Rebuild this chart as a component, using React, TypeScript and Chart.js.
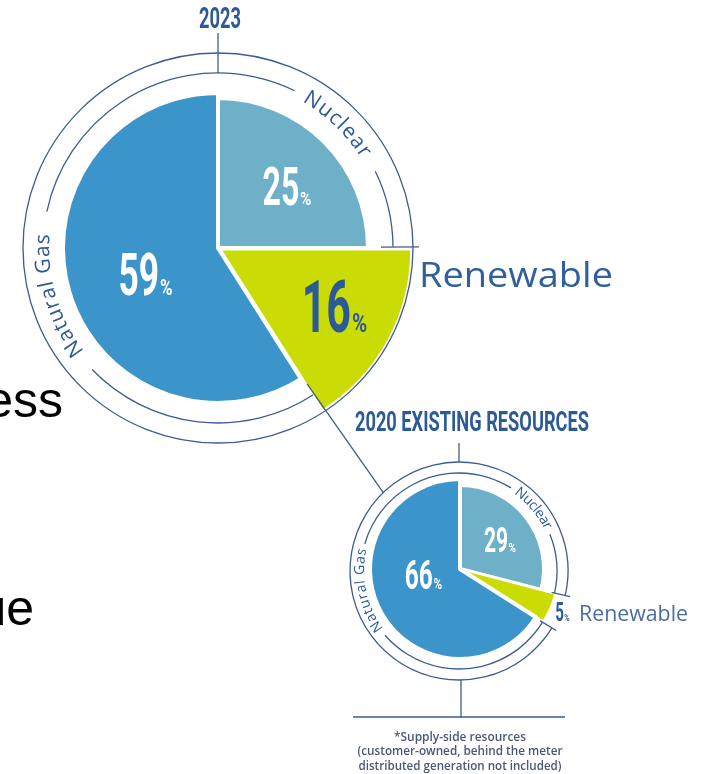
import React, { useEffect, useRef } from 'react';
import { Chart, registerables } from 'chart.js';

Chart.register(...registerables);

// ---------------- data ----------------
const sliceNames = ['Nuclear', 'Renewable', 'Natural Gas'];
const share2023 = [25, 16, 59];
const share2020 = [29, 5, 66];
const title2023 = '2023';
const title2020 = '2020 EXISTING RESOURCES';
const footnoteLines = [
  '*Supply-side resources',
  '(customer-owned, behind the meter',
  'distributed generation not included)',
];
const backdropWords = ['ess', 'ue'];

// ---------------- style ----------------
const sliceColors = ['#6db0c8', '#cbdc05', '#3b95cb'];
const INK = '#2c5a97';
const RULE = '#3d5c91';
const W = 702;
const H = 774;
const D2R = Math.PI / 180;

const bigStyle: any = {
  center: [218, 248],
  radii: [150, 187, 155],
  offsets: [0, 20, 0],
  borders: [4, 0, 4],
  ring: { dx: 0, dy: 0, inner: 175, outer: 195, textR: 175 },
  outerSegs: [[0, 360]],
  innerSegs: [[57, 136], [192, 296], [334, 359.6]],
  ticks: [[-0.3, 163, 201]],
  topTick: [175, 215],
  ringText: [
    { i: 0, deg: -46, span: 28, size: 21 },
    { i: 2, deg: 163.5, span: 42, size: 21 },
  ],
  pct: [
    { dx: 69, dy: -62, h: 38, color: '#ffffff' },
    { dx: 116.5, dy: 58.5, h: 51, color: INK },
    { dx: -72.5, dy: 26, h: 42, color: '#ffffff' },
  ],
  title: { dx: 2, base: -220, width: 42, capH: 21 },
  renew: { dx: 201, base: 39, width: 194, size: 34, color: '#2f5f9d' },
};

const smallStyle: any = {
  center: [460, 569],
  radii: [84, 89, 90],
  offsets: [0, 20, 0],
  borders: [4, 0, 4],
  ring: { dx: -1, dy: 2, inner: 98, outer: 109, textR: 99 },
  outerSegs: [[31.5, 373]],
  innerSegs: [[31.5, 139], [196, 302], [338, 373]],
  ticks: [[13, 95, 114], [31.5, 95, 114]],
  topTick: [109, 128],
  ringText: [
    { i: 0, deg: -40, span: 29, size: 14 },
    { i: 2, deg: 168, span: 50, size: 14 },
  ],
  pct: [
    { dx: 40, dy: -29.5, h: 25, color: '#ffffff' },
    { dx: 102.5, dy: 42.5, h: 18, color: INK },
    { dx: -36.5, dy: 5.5, h: 29, color: '#ffffff' },
  ],
  title: { dx: 12, base: -138, width: 234, capH: 19 },
  renew: { dx: 119, base: 52, width: 109, size: 22, color: '#4a6da1' },
};

// ---------------- helpers ----------------
function fitText(ctx: CanvasRenderingContext2D, text: string, x: number, y: number, font: string, width: number, align: string, color: string) {
  ctx.save();
  ctx.font = font;
  ctx.fillStyle = color;
  ctx.textBaseline = 'alphabetic';
  ctx.textAlign = 'left';
  const w = ctx.measureText(text).width;
  const k = width ? width / w : 1;
  const tw = w * k;
  const x0 = align === 'left' ? x : align === 'center' ? x - tw / 2 : x - tw;
  ctx.translate(x0, y);
  ctx.scale(k, 1);
  ctx.fillText(text, 0, 0);
  ctx.restore();
}

function drawPct(ctx: CanvasRenderingContext2D, value: number, x: number, y: number, h: number, color: string) {
  const f1 = h / 0.711;
  const f2 = f1 * 0.36;
  const s1 = 0.6;
  const s2 = 0.8;
  const num = String(value);
  ctx.save();
  ctx.fillStyle = color;
  ctx.textBaseline = 'alphabetic';
  ctx.textAlign = 'left';
  ctx.font = `700 ${f1}px Roboto`;
  const w1 = ctx.measureText(num).width * s1;
  ctx.font = `700 ${f2}px Roboto`;
  const w2 = ctx.measureText('%').width * s2;
  const gap = h * 0.02;
  const x0 = x - (w1 + gap + w2) / 2;
  const base = y + h / 2;
  ctx.font = `700 ${f1}px Roboto`;
  ctx.save();
  ctx.translate(x0, base);
  ctx.scale(s1, 1);
  ctx.fillText(num, 0, 0);
  ctx.restore();
  ctx.font = `700 ${f2}px Roboto`;
  ctx.save();
  ctx.translate(x0 + w1 + gap, base);
  ctx.scale(s2, 1);
  ctx.fillText('%', 0, 0);
  ctx.restore();
  ctx.restore();
}

function arcText(ctx: CanvasRenderingContext2D, text: string, cx: number, cy: number, r: number, centerDeg: number, spanDeg: number, size: number, color: string) {
  ctx.save();
  ctx.font = `500 ${size}px "Open Sans"`;
  ctx.fillStyle = color;
  ctx.textAlign = 'center';
  ctx.textBaseline = 'middle';
  const chars = Array.from(text);
  const widths = chars.map((c) => ctx.measureText(c).width);
  const natural = widths.reduce((a, b) => a + b, 0);
  const spanPx = spanDeg * D2R * r;
  const extra = chars.length > 1 ? Math.max(-0.5, (spanPx - natural) / (chars.length - 1)) : 0;
  const total = natural + extra * (chars.length - 1);
  let a = centerDeg * D2R - total / (2 * r);
  chars.forEach((c, i) => {
    const mid = a + widths[i] / 2 / r;
    ctx.save();
    ctx.translate(cx + r * Math.cos(mid), cy + r * Math.sin(mid));
    ctx.rotate(mid + Math.PI / 2);
    ctx.fillText(c, 0, 0);
    ctx.restore();
    a += (widths[i] + extra) / r;
  });
  ctx.restore();
}

function seg(ctx: CanvasRenderingContext2D, cx: number, cy: number, r: number, a0: number, a1: number) {
  ctx.beginPath();
  ctx.arc(cx, cy, r, a0 * D2R, a1 * D2R);
  ctx.stroke();
}

function radial(ctx: CanvasRenderingContext2D, cx: number, cy: number, deg: number, r0: number, r1: number) {
  const c = Math.cos(deg * D2R);
  const s = Math.sin(deg * D2R);
  ctx.beginPath();
  ctx.moveTo(cx + r0 * c, cy + r0 * s);
  ctx.lineTo(cx + r1 * c, cy + r1 * s);
  ctx.stroke();
}

function pieCenter(chart: any) {
  const el = chart.getDatasetMeta(0).data[0];
  return { x: el.x, y: el.y };
}

function decoPlugin(st: any, values: number[], title: string, extra: any) {
  const applyRadii = (chart: any) => {
    const meta = chart.getDatasetMeta(0);
    meta.data.forEach((el: any, i: number) => {
      el.outerRadius = st.radii[i];
    });
  };
  return {
    id: 'deco',
    afterDatasetsUpdate(chart: any) {
      applyRadii(chart);
    },
    beforeDatasetsDraw(chart: any) {
      applyRadii(chart);
      const ctx: CanvasRenderingContext2D = chart.ctx;
      const { x: cx, y: cy } = pieCenter(chart);
      const rx = cx + st.ring.dx;
      const ry = cy + st.ring.dy;
      if (extra.before) extra.before(ctx, cx, cy, rx, ry);
      ctx.save();
      ctx.strokeStyle = RULE;
      ctx.lineWidth = 1.3;
      st.outerSegs.forEach((s: number[]) => seg(ctx, rx, ry, st.ring.outer, s[0], s[1]));
      st.innerSegs.forEach((s: number[]) => seg(ctx, rx, ry, st.ring.inner, s[0], s[1]));
      st.ticks.forEach((t: number[]) => radial(ctx, rx, ry, t[0], t[1], t[2]));
      radial(ctx, rx, ry, -90, st.topTick[0], st.topTick[1]);
      ctx.restore();
      st.ringText.forEach((t: any) =>
        arcText(ctx, sliceNames[t.i], rx, ry, st.ring.textR, t.deg, t.span, t.size, INK)
      );
      const tf = st.title.capH / 0.711;
      fitText(ctx, title, cx + st.title.dx, cy + st.title.base, `700 ${tf}px Roboto`, st.title.width, 'center', INK);
    },
    afterDatasetsDraw(chart: any) {
      const ctx: CanvasRenderingContext2D = chart.ctx;
      const { x: cx, y: cy } = pieCenter(chart);
      values.forEach((v, i) => {
        const p = st.pct[i];
        drawPct(ctx, v, cx + p.dx, cy + p.dy, p.h, p.color);
      });
      const rn = st.renew;
      fitText(ctx, sliceNames[1], cx + rn.dx, cy + rn.base, `400 ${rn.size}px "Open Sans"`, rn.width, 'left', rn.color);
      if (extra.after) extra.after(ctx, cx, cy, cx + st.ring.dx, cy + st.ring.dy);
    },
  };
}

function padFor(cx: number, cy: number) {
  return {
    left: Math.max(0, 2 * cx - W),
    right: Math.max(0, W - 2 * cx),
    top: Math.max(0, 2 * cy - H),
    bottom: Math.max(0, H - 2 * cy),
  };
}

function makeConfig(values: number[], st: any, plugin: any): any {
  return {
    type: 'pie',
    data: {
      labels: sliceNames,
      datasets: [
        {
          data: values,
          backgroundColor: sliceColors,
          borderColor: '#ffffff',
          borderWidth: st.borders,
          offset: st.offsets,
          hoverOffset: 0,
        },
      ],
    },
    options: {
      responsive: false,
      animation: false,
      radius: Math.max(...st.radii),
      events: [],
      layout: { padding: padFor(st.center[0], st.center[1]) },
      plugins: {
        legend: { display: false },
        tooltip: { enabled: false },
        title: { display: false },
      },
    },
    plugins: [plugin],
  };
}

export default function App() {
  const bigRef = useRef<HTMLCanvasElement>(null);
  const smallRef = useRef<HTMLCanvasElement>(null);

  useEffect(() => {
    const bigPlugin = decoPlugin(bigStyle, share2023, title2023, {
      before: (ctx: CanvasRenderingContext2D) => {
        ctx.save();
        ctx.fillStyle = '#000000';
        ctx.font = '50px "Liberation Sans", Arial, sans-serif';
        ctx.textAlign = 'right';
        ctx.textBaseline = 'alphabetic';
        ctx.fillText(backdropWords[0], 63, 417);
        ctx.fillText(backdropWords[1], 34, 625);
        ctx.restore();
      },
    });
    const big = new Chart(bigRef.current as HTMLCanvasElement, makeConfig(share2023, bigStyle, bigPlugin));

    const smallPlugin = decoPlugin(smallStyle, share2020, title2020, {
      before: (ctx: CanvasRenderingContext2D, cx: number, cy: number, rx: number, ry: number) => {
        ctx.save();
        ctx.strokeStyle = RULE;
        ctx.lineWidth = 1.3;
        const yLine = cy + 148;
        ctx.beginPath();
        ctx.moveTo(rx + 2, ry + smallStyle.ring.outer);
        ctx.lineTo(rx + 2, yLine);
        ctx.moveTo(rx - 106, yLine);
        ctx.lineTo(rx + 106, yLine);
        ctx.stroke();
        ctx.restore();
        const bases = [172, 186, 201];
        const widths = [132, 205, 203];
        footnoteLines.forEach((t, i) =>
          fitText(ctx, t, cx, cy + bases[i], '600 12px "Open Sans"', widths[i], 'center', '#4a5878')
        );
      },
      after: (ctx: CanvasRenderingContext2D, cx: number, cy: number, rx: number, ry: number) => {
        // connector from the 2023 renewable slice edge to the 2020 ring
        const el: any = big.getDatasetMeta(0).data[1];
        const mid = (el.startAngle + el.endAngle) / 2;
        const off = (el.options.offset || 0) / 4;
        const ax = el.x + Math.cos(mid) * off;
        const ay = el.y + Math.sin(mid) * off;
        const sx = ax + Math.cos(el.endAngle) * 158;
        const sy = ay + Math.sin(el.endAngle) * 158;
        const ex = rx + Math.cos(-134 * D2R) * smallStyle.ring.outer;
        const ey = ry + Math.sin(-134 * D2R) * smallStyle.ring.outer;
        ctx.save();
        ctx.strokeStyle = RULE;
        ctx.lineWidth = 1.3;
        ctx.beginPath();
        ctx.moveTo(sx, sy);
        ctx.lineTo(ex, ey);
        ctx.stroke();
        ctx.restore();
      },
    });
    const small = new Chart(smallRef.current as HTMLCanvasElement, makeConfig(share2020, smallStyle, smallPlugin));

    return () => {
      small.destroy();
      big.destroy();
    };
  }, []);

  return (
    <div style={{ position: 'fixed', left: 0, top: 0, width: W, height: H, background: '#ffffff', overflow: 'hidden' }}>
      <canvas ref={bigRef} width={W} height={H} style={{ position: 'absolute', left: 0, top: 0 }} />
      <canvas ref={smallRef} width={W} height={H} style={{ position: 'absolute', left: 0, top: 0 }} />
    </div>
  );
}
